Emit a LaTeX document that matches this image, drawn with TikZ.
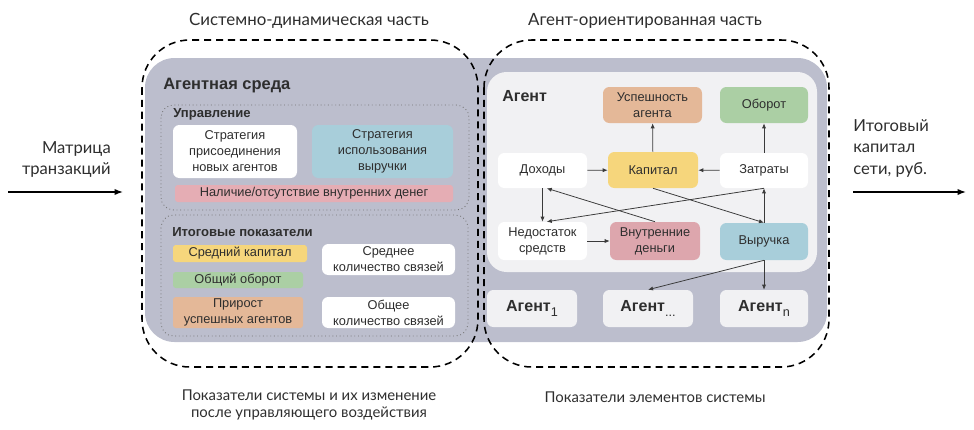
\documentclass[tikz,border=0pt]{standalone}
\usepackage{fontspec}
\setmainfont{Lato}
\newfontfamily\bxf{Liberation Sans}
\usetikzlibrary{arrows.meta,fit}
\definecolor{grayreg}{HTML}{BCBECD}
\definecolor{panel}{HTML}{F1F1F3}
\definecolor{corange}{HTML}{E4B898}
\definecolor{cgreen}{HTML}{ABCFA4}
\definecolor{cyellow}{HTML}{F6D67C}
\definecolor{cblue}{HTML}{A8CEDA}
\definecolor{cpink}{HTML}{DDA6AD}
\definecolor{cpinkbar}{HTML}{E5ADB4}
\definecolor{txt}{HTML}{2E2E2E}
\definecolor{arrc}{HTML}{3A3A3A}
\newcommand\agsub[1]{\raisebox{-3.5pt}{\mdseries\fontsize{9}{9}\selectfont #1}}
\begin{document}
\begin{tikzpicture}[x=0.025cm,y=-0.025cm,
  box/.style={rounded corners=4.5pt, inner sep=0pt, align=center, text=txt,
    font=\bxf\fontsize{9.1}{11.4}\selectfont},
  title/.style={text=txt, font=\fontsize{12}{15}\selectfont, inner sep=0pt, align=center},
  dotbox/.style={draw=black!55, dotted, line width=0.6pt, rounded corners=9pt},
  dashbox/.style={draw=black, dashed, dash pattern=on 5pt off 3.5pt, line width=1.1pt, rounded corners=34pt},
  arr/.style={draw=arrc, line width=0.55pt, -{Latex[length=3.6pt,width=3pt]}},
  bigarr/.style={draw=black, line width=1pt, -{Latex[length=6pt,width=4.5pt]}},
  hd/.style={anchor=west, inner sep=0pt, text=txt, font=\bxf\bfseries\fontsize{#1}{#1}\selectfont},
  agbox/.style={box, font=\bxf\bfseries\fontsize{11.4}{12}\selectfont}
]
\useasboundingbox (0,0) rectangle (974,429);

% background regions
\fill[grayreg, rounded corners=21pt] (145,58) rectangle (827,342);
\fill[panel, rounded corners=14pt] (487,72) rectangle (817,272);

% dashed regions
\draw[dashbox] (142,40) rectangle (478,367);
\draw[dashbox] (484,40) rectangle (829,367);

% titles
\node[title] (t1) at (309,21) {Системно-динамическая часть};
\node[title] (t2) at (645,21) {Агент-ориентированная часть};

% left side
\node[hd=11.7] (env) at (163,86) {Агентная среда};
\draw[dotbox] (161,105) rectangle (469,210);
\node[hd=9.3] (upr) at (173,114) {Управление};
\node[box, fill=white, fit={(173,125)(297,178)}] (s1) {};
\node[box] at (s1.center) {Стратегия\\присоединения\\новых агентов};
\node[box, fill=cblue, fit={(312,125)(453,178)}] (s2) {};
\node[box] at (s2.center) {Стратегия\\использования\\выручки};
\node[box, rounded corners=2pt, fill=cpinkbar, fit={(175,185)(453,202)}] (pb) {};
\node[box] at (pb.center) {Наличие/отсутствие внутренних денег};

\draw[dotbox] (161,215) rectangle (468,336);
\node[hd=9.3] (itog) at (172,232) {Итоговые показатели};
\node[box, rounded corners=2pt, fill=cyellow, fit={(173,245)(307,262)}] (sk) {};
\node[box] at (sk.center) {Средний капитал};
\node[box, rounded corners=2pt, fill=cgreen, fit={(173,272)(303,288)}] (oo) {};
\node[box] at (oo.center) {Общий оборот};
\node[box, rounded corners=2pt, fill=corange, fit={(173,297)(303,328)}] (pr) {};
\node[box] at (pr.center) {Прирост\\успешных агентов};
\node[box, fill=white, fit={(322,244)(455,275)}] (sr) {};
\node[box] at (sr.center) {Среднее\\количество связей};
\node[box, fill=white, fit={(322,297)(455,328)}] (ob) {};
\node[box] at (ob.center) {Общее\\количество связей};

% right side
\node[hd=11.4] (agt) at (502,96) {Агент};
\node[box, fill=corange, fit={(603,87)(702,123)}] (usp) {};
\node[box] at (usp.center) {Успешность\\агента};
\node[box, fill=cgreen, fit={(720,87)(808,123)}] (obr) {};
\node[box] at (obr.center) {Оборот};
\node[box, fill=white, fit={(498,153)(587,188)}] (doh) {};
\node[box] at (doh.center) {Доходы};
\node[box, fill=cyellow, fit={(608,152)(698,188)}] (kap) {};
\node[box] at (kap.center) {Капитал};
\node[box, fill=white, fit={(720,153)(808,188)}] (zat) {};
\node[box] at (zat.center) {Затраты};
\node[box, fill=white, fit={(498,222)(587,260)}] (ned) {};
\node[box] at (ned.center) {Недостаток\\средств};
\node[box, fill=cpink, fit={(610,222)(700,260)}] (vnu) {};
\node[box] at (vnu.center) {Внутренние\\деньги};
\node[box, fill=cblue, fit={(720,223)(808,260)}] (vyr) {};
\node[box] at (vyr.center) {Выручка};

\node[box, fill=panel, fit={(487,290)(577,327)}] (a1) {};
\node[agbox] at (a1.center) {Агент\agsub{1}};
\node[box, fill=panel, fit={(603,290)(693,327)}] (a2) {};
\node[agbox] at (a2.center) {Агент\agsub{...}};
\node[box, fill=panel, fit={(720,290)(808,327)}] (an) {};
\node[agbox] at (an.center) {Агент\agsub{n}};

% arrows inside agent
\draw[arr] (doh) -- (kap);
\draw[arr] (zat) -- (kap);
\draw[arr] (kap) -- (usp);
\draw[arr] (zat) -- (obr);
\draw[arr] (doh.south) -- (ned.north);
\draw[arr] (vnu.north) -- ([xshift=3pt]doh.south);
\draw[arr] (zat.south) -- ([xshift=3pt]ned.north);
\draw[arr] (kap.south) -- (vyr.north);
\draw[arr] (vyr.north) -- (zat.south);
\draw[arr] (ned) -- (vnu);
\draw[arr] (vyr.south) -- (a2.north);
\draw[arr] (vyr.south) -- (an.north);

% input / output
\node[title, align=right, anchor=north east, font=\fontsize{11.8}{15.5}\selectfont] (inp) at (111,141) {Матрица\\транзакций};
\coordinate (ia) at (8,192);
\coordinate (ib) at (123,192);
\draw[bigarr] (ia) -- (ib);
\node[title, align=left, anchor=north west, font=\fontsize{11.8}{15.5}\selectfont] (out) at (853,119) {Итоговый\\капитал\\сети, руб.};
\coordinate (oa) at (853,192);
\coordinate (ob2) at (966,192);
\draw[bigarr] (oa) -- (ob2);

% bottom captions
\node[title, font=\fontsize{10.6}{12.5}\selectfont] (c1) at (309,405) {Показатели системы и их изменение\\после управляющего воздействия};
\node[title, font=\fontsize{10.6}{12.5}\selectfont] (c2) at (655,397) {Показатели элементов системы};
\end{tikzpicture}
\end{document}
